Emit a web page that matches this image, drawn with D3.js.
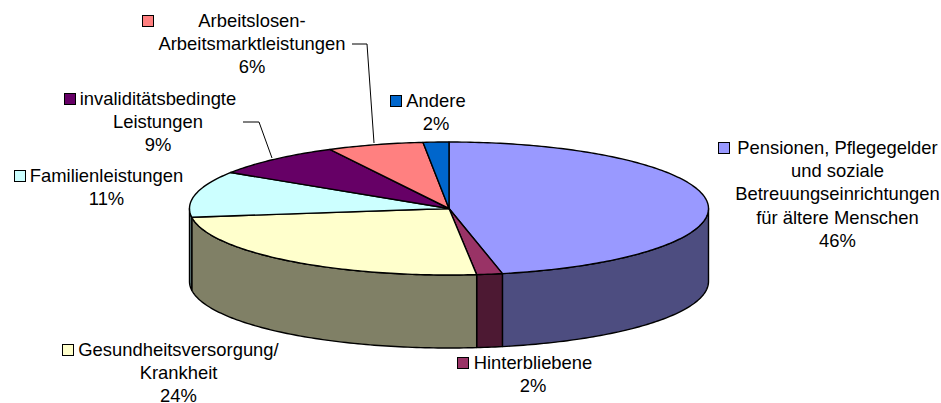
<!DOCTYPE html>
<html>
<head>
<meta charset="utf-8">
<script src="https://cdnjs.cloudflare.com/ajax/libs/d3/7.8.5/d3.min.js"></script>
<style>
	body { margin: 0; background: #fff; }
	text { font-family: "Liberation Sans", Arial, sans-serif; font-size: 18.4px; fill: #000; text-anchor: middle; }
</style>
</head>
<body>
<script>
// Slice sizes, the printed labels are rounded
var categories = ['Pensionen', 'Hinterbliebene', 'Gesundheit', 'Familien', 'Invalidität', 'Arbeitslosen', 'Andere'];
var values = [46.7, 1.6, 24.6, 11.2, 8.3, 6.0, 1.6];
var percents = ['46%', '2%', '24%', '11%', '9%', '6%', '2%'];
var labelLines = [
	['Pensionen, Pflegegelder', 'und soziale', 'Betreuungseinrichtungen', 'für ältere Menschen'],
	['Hinterbliebene'],
	['Gesundheitsversorgung/', 'Krankheit'],
	['Familienleistungen'],
	['invaliditätsbedingte', 'Leistungen'],
	['Arbeitslosen-', 'Arbeitsmarktleistungen'],
	['Andere']
];
var topColors = ['#9999FF', '#993366', '#FFFFCC', '#CCFFFF', '#660066', '#FF8080', '#0066CC'];
var sideColors = ['#4D4D80', '#4D1933', '#808066', '#668080', '#330033', '#804040', '#003366'];

// label centre x, first baseline y, left edge of the colour key
var labelX = [837.5, 533, 178.5, 106.5, 158, 252, 436];
var labelY = [154, 369, 356, 182, 105, 27, 107];
var keyX = [718, 457, 62, 14, 64, 142, 390];

var width = 941;
var height = 403;
var cx = 449;
var cy = 208.5;
var rx = 259.5;
var ry = 66.5;
var depth = 73;
var line_height = 23.2;

var svg = d3.select('body').append('svg')
	.attr('width', width)
	.attr('height', height);

var slices = d3.pie().sort(null).value(function (d) { return d; })(values);

function px(a) { return cx + rx * Math.sin(a); }
function py(a) { return cy - ry * Math.cos(a); }

// points along the rim between two angles
function rim(a0, a1, dy) {
	var n = Math.max(2, Math.ceil(Math.abs(a1 - a0) * 60));
	return d3.range(n + 1).map(function (i) {
		var a = a0 + (a1 - a0) * i / n;
		return [px(a), py(a) + dy];
	});
}

var line = d3.line();

// Walls, only the front half of the rim shows
var front0 = Math.PI / 2;
var front1 = Math.PI * 3 / 2;
svg.selectAll('path.side')
	.data(slices.filter(function (d) { return d.endAngle > front0 && d.startAngle < front1; }))
	.enter().append('path')
	.attr('class', 'side')
	.attr('d', function (d) {
		var a0 = Math.max(d.startAngle, front0);
		var a1 = Math.min(d.endAngle, front1);
		return line(rim(a0, a1, 0).concat(rim(a1, a0, depth))) + 'Z';
	})
	.attr('fill', function (d) { return sideColors[d.index]; })
	.attr('stroke', '#000')
	.attr('stroke-width', 1.4)
	.attr('stroke-linejoin', 'round');

// Top face
svg.selectAll('path.top')
	.data(slices)
	.enter().append('path')
	.attr('class', 'top')
	.attr('d', function (d) {
		return line([[cx, cy]].concat(rim(d.startAngle, d.endAngle, 0))) + 'Z';
	})
	.attr('fill', function (d) { return topColors[d.index]; })
	.attr('stroke', '#000')
	.attr('stroke-width', 1.4)
	.attr('stroke-linejoin', 'round');

// Leader lines
var leaders = [
	[[352, 44], [367, 44], [374, 143]],
	[[243, 122], [259, 122], [272, 158]]
];
svg.selectAll('path.leader')
	.data(leaders)
	.enter().append('path')
	.attr('class', 'leader')
	.attr('d', line)
	.attr('fill', 'none')
	.attr('stroke', '#000')
	.attr('stroke-width', 1);

// Labels
var labels = svg.selectAll('g.label')
	.data(categories)
	.enter().append('g')
	.attr('class', 'label');

labels.each(function (d, i) {
	var g = d3.select(this);
	var lines = labelLines[i].concat([percents[i]]);

	g.selectAll('text')
		.data(lines)
		.enter().append('text')
		.attr('x', labelX[i])
		.attr('y', function (t, j) { return labelY[i] + j * line_height; })
		.text(function (t) { return t; });

	g.append('rect')
		.attr('x', keyX[i] + 0.5)
		.attr('y', labelY[i] - 11.5)
		.attr('width', 11)
		.attr('height', 11)
		.attr('fill', topColors[i])
		.attr('stroke', '#000')
		.attr('stroke-width', 1);
});
</script>
</body>
</html>
